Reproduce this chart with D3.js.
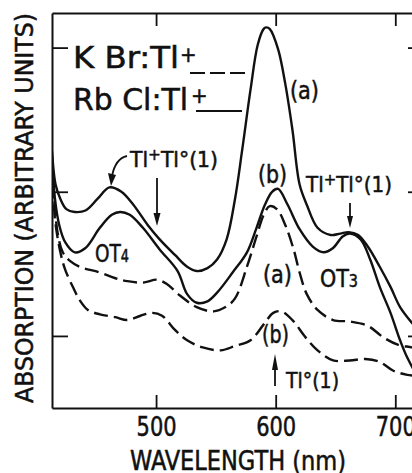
<!DOCTYPE html>
<html>
<head>
<meta charset="utf-8">
<script src="https://cdn.jsdelivr.net/npm/d3@7"></script>
<style>
  body { margin: 0; background: #fff; }
  svg { display: block; }
  text { font-family: "DejaVu Sans Condensed", "Liberation Sans Narrow", "DejaVu Sans", sans-serif; fill: #111; stroke: #111; stroke-width: 0.5px; }
</style>
</head>
<body>
<div id="chart"></div>
<script>
// wavelength (nm) / absorption (arb. units)
const rbclA_nm = [413, 416, 420, 425, 432, 441, 451, 461, 471, 481, 493, 503, 516, 526, 534, 543, 551, 559, 566, 572, 579, 585, 590, 592, 595, 602, 608, 614, 620, 626, 635, 646, 654, 661, 669, 677, 687, 696, 704, 714, 724];
const rbclA_abs = [1.78, 1.55, 1.45, 1.38, 1.36, 1.37, 1.45, 1.53, 1.50, 1.41, 1.27, 1.17, 1.06, 0.98, 0.95, 0.97, 1.03, 1.17, 1.45, 1.79, 2.21, 2.52, 2.63, 2.64, 2.63, 2.49, 2.25, 1.93, 1.55, 1.41, 1.25, 1.20, 1.21, 1.22, 1.20, 1.12, 0.98, 0.84, 0.70, 0.59, 0.50];

const rbclB_nm = [413, 415.5, 419, 424, 432, 441, 453, 463, 470, 478, 489, 503, 518, 526, 534, 543, 551, 564, 576, 584, 591, 597, 602, 610, 620, 631, 640, 648, 656, 662, 671, 679, 687, 696, 704, 710, 724];
const rbclB_abs = [1.75, 1.45, 1.27, 1.15, 1.08, 1.11, 1.25, 1.34, 1.36, 1.34, 1.25, 1.10, 0.95, 0.79, 0.73, 0.74, 0.80, 0.94, 1.08, 1.25, 1.41, 1.50, 1.52, 1.41, 1.24, 1.12, 1.08, 1.11, 1.19, 1.21, 1.17, 1.03, 0.84, 0.66, 0.47, 0.35, 0.14];

const kbrA_nm = [413, 415.5, 418, 422, 428, 436, 453, 466, 476, 489, 501, 509, 520, 534, 548, 558, 566, 576, 584, 590, 595, 601, 608, 615, 620, 626, 635, 648, 662, 677, 690, 702, 714, 724];
const kbrA_abs = [1.71, 1.38, 1.20, 1.08, 1.02, 0.98, 0.94, 0.90, 0.88, 0.87, 0.89, 0.86, 0.78, 0.70, 0.67, 0.70, 0.76, 0.98, 1.19, 1.34, 1.40, 1.38, 1.27, 1.10, 0.94, 0.79, 0.68, 0.61, 0.60, 0.57, 0.49, 0.44, 0.42, 0.40];

const kbrB_nm = [413, 415.5, 420, 424, 431, 436, 443, 453, 466, 476, 487, 497, 505, 516, 526, 539, 554, 566, 579, 590, 598, 605, 614, 625, 635, 648, 662, 675, 687, 698, 710, 724];
const kbrB_abs = [1.69, 1.31, 1.08, 0.96, 0.83, 0.75, 0.68, 0.65, 0.63, 0.61, 0.64, 0.66, 0.64, 0.54, 0.47, 0.42, 0.40, 0.43, 0.47, 0.58, 0.66, 0.67, 0.61, 0.49, 0.40, 0.33, 0.33, 0.34, 0.32, 0.26, 0.23, 0.22];

const xTicks = [500, 600, 700];
const yTicks = [0.5, 1.5, 2.5];

const W = 412, H = 473;
const mLeft = 52, mRight = 424, mTop = 13, mBottom = 408;

const svg = d3.select("#chart").append("svg")
  .attr("width", W).attr("height", H);

const x = d3.scaleLinear().domain([413, 724]).range([mLeft, mRight]);
const y = d3.scaleLinear().domain([0, 2.74]).range([mBottom, mTop]);

svg.append("clipPath").attr("id", "plot")
  .append("rect").attr("x", mLeft).attr("y", mTop)
  .attr("width", mRight - mLeft).attr("height", mBottom - mTop);

// frame + ticks
function styleAxis(g) {
  g.selectAll("path.domain").attr("stroke", "#111").attr("stroke-width", 2);
  g.selectAll(".tick line").attr("stroke", "#111").attr("stroke-width", 1.8);
}
svg.append("g").attr("transform", `translate(0,${mBottom})`)
  .call(d3.axisBottom(x).tickValues(xTicks).tickSizeInner(-13).tickSizeOuter(0).tickPadding(10))
  .call(styleAxis)
  .call(g => g.selectAll(".tick text")
    .attr("font-size", 26).attr("textLength", 40).attr("lengthAdjust", "spacingAndGlyphs")
    .style("font-family", '"DejaVu Sans Condensed", "DejaVu Sans", sans-serif')
    .attr("fill", "#111").attr("stroke", "#111").attr("stroke-width", 0.5));
svg.append("g").attr("transform", `translate(0,${mTop})`)
  .call(d3.axisTop(x).tickValues(xTicks).tickSizeInner(-13).tickSizeOuter(0).tickFormat(""))
  .call(styleAxis);
svg.append("g").attr("transform", `translate(${mLeft},0)`)
  .call(d3.axisLeft(y).tickValues(yTicks).tickSizeInner(-16).tickSizeOuter(0).tickFormat(""))
  .call(styleAxis);
svg.append("g").attr("transform", `translate(${mRight},0)`)
  .call(d3.axisRight(y).tickValues(yTicks).tickSizeInner(-16).tickSizeOuter(0).tickFormat(""))
  .call(styleAxis);

// curves
const line = d3.line().x(d => x(d[0])).y(d => y(d[1])).curve(d3.curveCatmullRom.alpha(0.5));
const series = [
  { nm: rbclA_nm, v: rbclA_abs, dash: null },
  { nm: rbclB_nm, v: rbclB_abs, dash: null },
  { nm: kbrA_nm, v: kbrA_abs, dash: "14,6" },
  { nm: kbrB_nm, v: kbrB_abs, dash: "14,6" }
];
const curves = svg.append("g").attr("clip-path", "url(#plot)");
series.forEach(s => {
  curves.append("path")
    .datum(d3.zip(s.nm, s.v))
    .attr("d", line)
    .attr("fill", "none")
    .attr("stroke", "#111")
    .attr("stroke-width", 2.4)
    .attr("stroke-dasharray", s.dash);
});

// legend
const leg = svg.append("g");
leg.append("text").attr("x", 73).attr("y", 68).attr("font-size", 30)
  .attr("textLength", 106).attr("lengthAdjust", "spacingAndGlyphs").text("K Br:Tl");
leg.append("text").attr("x", 180).attr("y", 62).attr("font-size", 22).text("+");
leg.append("line").attr("x1", 190).attr("x2", 248).attr("y1", 73).attr("y2", 73)
  .attr("stroke", "#111").attr("stroke-width", 2).attr("stroke-dasharray", "15,5");
leg.append("text").attr("x", 73).attr("y", 110).attr("font-size", 30)
  .attr("textLength", 115).attr("lengthAdjust", "spacingAndGlyphs").text("Rb Cl:Tl");
leg.append("text").attr("x", 191).attr("y", 103).attr("font-size", 22).text("+");
leg.append("line").attr("x1", 196).attr("x2", 242).attr("y1", 111).attr("y2", 111)
  .attr("stroke", "#111").attr("stroke-width", 2);

// annotations
const ann = svg.append("g");
function label(txt, px, py, fs, len) {
  const t = ann.append("text").attr("x", px).attr("y", py).attr("font-size", fs);
  txt.forEach(p => {
    const s = t.append("tspan").text(p.t);
    if (p.sup) s.attr("font-size", fs * 0.75).attr("dy", -fs * 0.3);
    if (p.sub) s.attr("font-size", fs * 0.7).attr("dy", 0);
    if (p.back) s.attr("dy", fs * 0.3);
  });
  if (len) t.attr("textLength", len).attr("lengthAdjust", "spacingAndGlyphs");
  return t;
}
label([{ t: "(a)" }], 290, 99, 25, 29);
label([{ t: "(b)" }], 258, 183, 25, 29);
label([{ t: "Tl" }, { t: "+", sup: true }, { t: "Tl°(1)", back: true }], 306, 192, 22, 86);
label([{ t: "Tl" }, { t: "+", sup: true }, { t: "Tl°(1)", back: true }], 130, 167, 22, 88);
label([{ t: "OT" }, { t: "4", sub: true }], 95, 262, 24, 34);
label([{ t: "OT" }, { t: "3", sub: true }], 320, 287, 24, 38);
label([{ t: "(a)" }], 263, 283, 25, 29);
label([{ t: "(b)" }], 262, 343, 25, 27);
label([{ t: "Tl°(1)" }], 286, 388, 22, 53);

// arrows
function arrowHead(tx, ty, dir, len, wid) {
  const b = ty - dir * len;
  ann.append("path")
    .attr("d", `M${tx},${ty} L${tx - wid / 2},${b} L${tx + wid / 2},${b} Z`)
    .attr("fill", "#111");
}
ann.append("path").attr("d", "M127,156 C118,158 114,166 112,176")
  .attr("fill", "none").attr("stroke", "#111").attr("stroke-width", 1.8);
ann.append("path").attr("d", "M111,186 L108,173 L116,175 Z").attr("fill", "#111");
ann.append("line").attr("x1", 157).attr("x2", 157).attr("y1", 178).attr("y2", 214)
  .attr("stroke", "#111").attr("stroke-width", 1.8);
arrowHead(157, 226, 1, 13, 7);
ann.append("line").attr("x1", 350).attr("x2", 350).attr("y1", 203).attr("y2", 216)
  .attr("stroke", "#111").attr("stroke-width", 1.8);
arrowHead(350, 228, 1, 12, 6);
ann.append("line").attr("x1", 275).attr("x2", 275).attr("y1", 386).attr("y2", 366)
  .attr("stroke", "#111").attr("stroke-width", 1.8);
arrowHead(275, 354, -1, 16, 6);

// axis titles
svg.append("text")
  .attr("transform", "translate(33,208) rotate(-90)")
  .attr("text-anchor", "middle").attr("font-size", 25)
  .attr("textLength", 390).attr("lengthAdjust", "spacingAndGlyphs")
  .text("ABSORPTION (ARBITRARY UNITS)");
svg.append("text")
  .attr("x", 238).attr("y", 470)
  .attr("text-anchor", "middle").attr("font-size", 26)
  .attr("textLength", 216).attr("lengthAdjust", "spacingAndGlyphs")
  .text("WAVELENGTH (nm)");
</script>
</body>
</html>
